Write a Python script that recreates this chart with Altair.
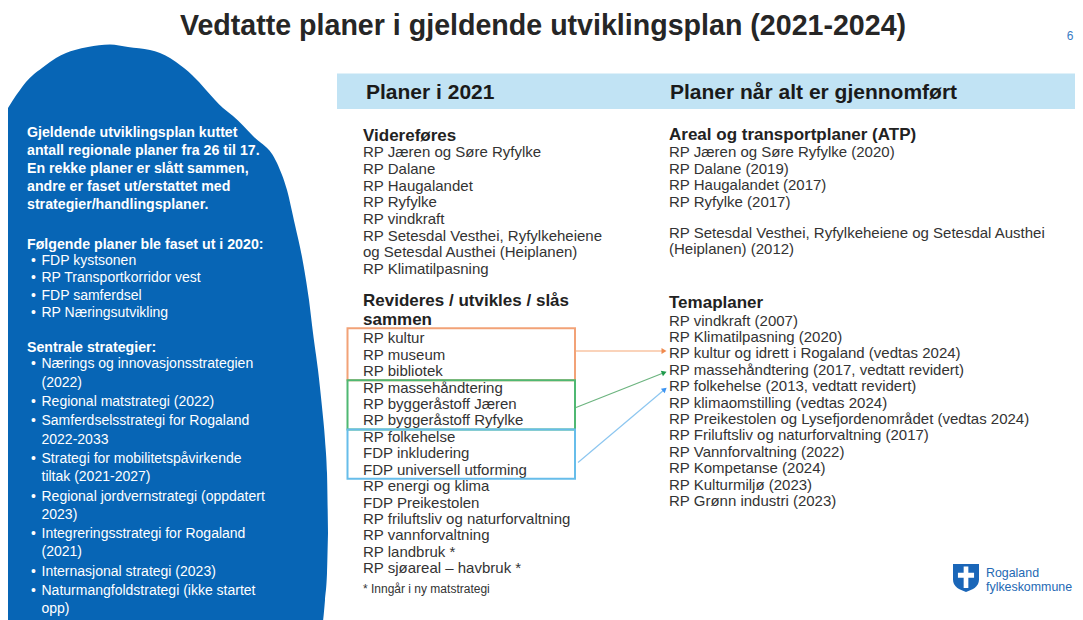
import altair as alt
import pandas as pd
import numpy as np

# ---------------- text content ----------------
TITLE = "Vedtatte planer i gjeldende utviklingsplan (2021-2024)"
PAGE_NO = "6"
HEAD_LEFT = "Planer i 2021"
HEAD_RIGHT = "Planer når alt er gjennomført"

INTRO = [
    "Gjeldende utviklingsplan kuttet",
    "antall regionale planer fra 26 til 17.",
    "En rekke planer er slått sammen,",
    "andre er faset ut/erstattet med",
    "strategier/handlingsplaner.",
]
PHASED_HEAD = "Følgende planer ble faset ut i 2020:"
PHASED = ["FDP kystsonen", "RP Transportkorridor vest", "FDP samferdsel", "RP Næringsutvikling"]
STRAT_HEAD = "Sentrale strategier:"
STRATEGIES = [
    ["Nærings og innovasjonsstrategien", "(2022)"],
    ["Regional matstrategi (2022)"],
    ["Samferdselsstrategi for Rogaland", "2022-2033"],
    ["Strategi for mobilitetspåvirkende", "tiltak (2021-2027)"],
    ["Regional jordvernstrategi (oppdatert", "2023)"],
    ["Integreringsstrategi for Rogaland", "(2021)"],
    ["Internasjonal strategi (2023)"],
    ["Naturmangfoldstrategi (ikke startet", "opp)"],
]

VIDERE_HEAD = "Videreføres"
VIDERE = [
    "RP Jæren og Søre Ryfylke", "RP Dalane", "RP Haugalandet", "RP Ryfylke",
    "RP vindkraft", "RP Setesdal Vesthei, Ryfylkeheiene",
    "og Setesdal Austhei (Heiplanen)", "RP Klimatilpasning",
]
REVID_HEAD = ["Revideres / utvikles / slås", "sammen"]
REVID = [
    "RP kultur", "RP museum", "RP bibliotek",
    "RP massehåndtering", "RP byggeråstoff Jæren", "RP byggeråstoff Ryfylke",
    "RP folkehelse", "FDP inkludering", "FDP universell utforming",
    "RP energi og klima", "FDP Preikestolen", "RP friluftsliv og naturforvaltning",
    "RP vannforvaltning", "RP landbruk *", "RP sjøareal – havbruk *",
]
FOOTNOTE = "* Inngår i ny matstrategi"

ATP_HEAD = "Areal og transportplaner (ATP)"
ATP = ["RP Jæren og Søre Ryfylke (2020)", "RP Dalane (2019)", "RP Haugalandet (2017)", "RP Ryfylke (2017)"]
HEI = ["RP Setesdal Vesthei, Ryfylkeheiene og Setesdal Austhei", "(Heiplanen) (2012)"]
TEMA_HEAD = "Temaplaner"
TEMA = [
    "RP vindkraft (2007)", "RP Klimatilpasning (2020)",
    "RP kultur og idrett i Rogaland (vedtas 2024)",
    "RP massehåndtering (2017, vedtatt revidert)",
    "RP folkehelse (2013, vedtatt revidert)",
    "RP klimaomstilling (vedtas 2024)",
    "RP Preikestolen og Lysefjordenområdet (vedtas 2024)",
    "RP Friluftsliv og naturforvaltning (2017)",
    "RP Vannforvaltning (2022)", "RP Kompetanse (2024)",
    "RP Kulturmiljø (2023)", "RP Grønn industri (2023)",
]
LOGO_TEXT = ["Rogaland", "fylkeskommune"]

# merged groups in REVID (first line, last line) and their colours
MERGE_FIRST = [0, 3, 6]
MERGE_LAST = [2, 5, 8]
BOX_COLORS = ["#f2a277", "#4fb872", "#67bdea"]
ARROW_COLORS = ["#f5a777", "#6cb47f", "#8cc6f0"]
HEAD_COLORS = ["#f08a4e", "#1f9a4c", "#3d94f2"]
# arrow end points (page pixels)
ARROW_X0 = [575, 576, 578]
ARROW_Y0 = [351, 407.5, 462.5]
ARROW_X1 = [667, 667, 667]
ARROW_Y1 = [351, 371.5, 387.5]

# blue blob outline: top edge and bottom edge along x
BLOB_X = [8, 13, 20, 26, 33, 42, 50, 56, 66, 75, 88, 110, 128, 150, 160, 170, 176, 184, 192,
          199, 206, 215, 223, 233, 253, 277, 287, 295, 302, 309, 313, 318, 322, 325, 327, 328]
BLOB_TOP = [108, 100, 90, 82, 75, 68, 62, 58, 53, 50, 47, 44.5, 47, 50, 53, 58, 62, 68, 75,
            82, 90, 100, 108, 116, 136, 163, 190, 225, 257, 300, 333, 370, 407, 440, 473, 533]
BLOB_BOTTOM = [625] * 33 + [600, 573, 533]

# ---------------- styling ----------------
FONT = "Liberation Sans"
BLUE = "#0765b5"
BAR = "#c1e3f4"
DARK = "#222222"
ITEM = "#333333"
LOGO_BLUE = "#2369b4"

W, H = 1067, 612
xs = alt.Scale(domain=[8, 8 + W], nice=False, zero=False)
ys = alt.Scale(domain=[8, 8 + H], nice=False, zero=False, reverse=True)


def X(f):
    return alt.X(f, type="quantitative", scale=xs, axis=None)


def Y(f):
    return alt.Y(f, type="quantitative", scale=ys, axis=None)


def rows(texts, x, y0, step):
    return [{"text": t, "x": x, "y": y0 + i * step} for i, t in enumerate(texts)]


def text_layer(data, size, bold=False, color=ITEM, align="left"):
    return alt.Chart(pd.DataFrame(data)).mark_text(
        align=align, baseline="alphabetic", font=FONT, fontSize=size,
        fontWeight="bold" if bold else "normal", color=color,
    ).encode(x=X("x"), y=Y("y"), text="text:N")


layers = []

# blob
blob_df = pd.DataFrame({"x": BLOB_X, "top": BLOB_TOP, "bottom": BLOB_BOTTOM})
layers.append(
    alt.Chart(blob_df).mark_area(interpolate="monotone", color=BLUE, opacity=1)
    .encode(x=X("x"), y=alt.Y("top:Q", scale=ys, axis=None, stack=None), y2="bottom:Q")
)

# header bar
bar_df = pd.DataFrame([{"x": 337, "x2": 8 + W, "y": 73.5, "y2": 109}])
layers.append(alt.Chart(bar_df).mark_rect(color=BAR).encode(x=X("x"), x2="x2:Q", y=Y("y"), y2="y2:Q"))

# title, page number, headers
layers.append(text_layer([{"text": TITLE, "x": 543, "y": 35}], 28.6, True, "#262626", "center"))
layers.append(text_layer([{"text": PAGE_NO, "x": 1070, "y": 40}], 12, False, "#3a7cc4", "center"))
layers.append(text_layer([{"text": HEAD_LEFT, "x": 366, "y": 99}, {"text": HEAD_RIGHT, "x": 670, "y": 99}],
                         21, True, "#1a1a1a"))

# blob text
WL = 27
layers.append(text_layer(rows(INTRO, WL, 137, 18) + [{"text": PHASED_HEAD, "x": WL, "y": 248.5},
                                                    {"text": STRAT_HEAD, "x": WL, "y": 351.5}],
                         14.2, True, "white"))
bul = []
txt = []
for i, t in enumerate(PHASED):
    y = 265 + i * 17.4
    bul.append({"text": "•", "x": 31, "y": y})
    txt.append({"text": t, "x": 41.5, "y": y})
y = 368.3
for item in STRATEGIES:
    for j, t in enumerate(item):
        if j == 0:
            bul.append({"text": "•", "x": 31, "y": y})
        txt.append({"text": t, "x": 41.5, "y": y})
        y += 18.2
    y += 1.2
layers.append(text_layer(bul, 14, False, "white"))
layers.append(text_layer(txt, 14, False, "white"))

# middle column
MX = 363
STEP = 16.43
REV_Y0 = 343.3
layers.append(text_layer([{"text": VIDERE_HEAD, "x": MX, "y": 141}] + rows(REVID_HEAD, MX, 305.5, 19.5),
                         17, True, DARK))
layers.append(text_layer(rows(VIDERE, MX, 157.3, 16.67) + rows(REVID, MX, REV_Y0, STEP), 15, False, ITEM))
layers.append(text_layer([{"text": FOOTNOTE, "x": MX, "y": 592.7}], 12, False, ITEM))

# right column
RX = 669
layers.append(text_layer([{"text": ATP_HEAD, "x": RX, "y": 140}, {"text": TEMA_HEAD, "x": RX, "y": 307.7}],
                         17, True, DARK))
layers.append(text_layer(rows(ATP, RX, 157.3, 16.5) + rows(HEI, RX, 237.8, 16.5) + rows(TEMA, RX, 325.7, 16.39),
                         15, False, ITEM))

# boxes around merged groups
for k in range(3):
    if k == 0:
        top = REV_Y0 + MERGE_FIRST[k] * STEP - 15
    else:
        top = REV_Y0 + (MERGE_FIRST[k] - 1) * STEP + 4
    bottom = REV_Y0 + MERGE_LAST[k] * STEP + 4
    r = {"x": 347.5, "x2": 575, "y": top, "y2": bottom}
    layers.append(
        alt.Chart(pd.DataFrame([r])).mark_rect(fillOpacity=0, strokeWidth=2, stroke=BOX_COLORS[k])
        .encode(x=X("x"), x2="x2:Q", y=Y("y"), y2="y2:Q")
    )

# arrows
ax0, ay0 = np.array(ARROW_X0, float), np.array(ARROW_Y0, float)
ax1, ay1 = np.array(ARROW_X1, float), np.array(ARROW_Y1, float)
ang = np.degrees(np.arctan2(ay1 - ay0, ax1 - ax0))
ln = np.hypot(ax1 - ax0, ay1 - ay0)
ux, uy = (ax1 - ax0) / ln, (ay1 - ay0) / ln
arrow_df = pd.DataFrame({
    "x0": ax0, "y0": ay0, "x1": ax1 - 4 * ux, "y1": ay1 - 4 * uy,
    "hx": ax1 - 3 * ux, "hy": ay1 - 3 * uy, "ang": np.mod(ang, 360),
    "lc": ARROW_COLORS, "hc": HEAD_COLORS,
})
layers.append(
    alt.Chart(arrow_df).mark_rule(strokeWidth=1.2)
    .encode(x=X("x0"), y=Y("y0"), x2="x1:Q", y2="y1:Q", color=alt.Color("lc:N", scale=None))
)
layers.append(
    alt.Chart(arrow_df).mark_point(shape="triangle-right", filled=True, size=34, opacity=1, strokeWidth=0)
    .encode(x=X("hx"), y=Y("hy"), angle=alt.Angle("ang:Q", scale=None), color=alt.Color("hc:N", scale=None))
)

# logo
SHIELD = "M -1 -1 L 1 -1 L 1 0.2 C 1 0.75 0.5 1.0 0 1.15 C -0.5 1.0 -1 0.75 -1 0.2 Z"
CROSS = ("M -0.18 -0.8 L 0.18 -0.8 L 0.18 -0.32 L 0.62 -0.32 L 0.62 0.06 L 0.18 0.06 "
         "L 0.18 0.85 L -0.18 0.85 L -0.18 0.06 L -0.62 0.06 L -0.62 -0.32 L -0.18 -0.32 Z")
logo_df = pd.DataFrame([{"x": 966, "y": 577}])
layers.append(alt.Chart(logo_df).mark_point(shape=SHIELD, size=676, filled=True, opacity=1, color="#1a66b8",
                                            strokeWidth=0).encode(x=X("x"), y=Y("y")))
layers.append(alt.Chart(logo_df).mark_point(shape=CROSS, size=676, filled=True, opacity=1, color="white",
                                            strokeWidth=0).encode(x=X("x"), y=Y("y")))
layers.append(text_layer(rows(LOGO_TEXT, 986, 577, 13.5), 12.4, False, LOGO_BLUE))

chart = alt.layer(*layers).properties(
    width=W, height=H, padding=0, autosize=alt.AutoSizeParams(type="none"),
    background="white",
).configure_view(stroke=None)

chart.save("out.html", embed_options={"renderer": "svg", "actions": False})
